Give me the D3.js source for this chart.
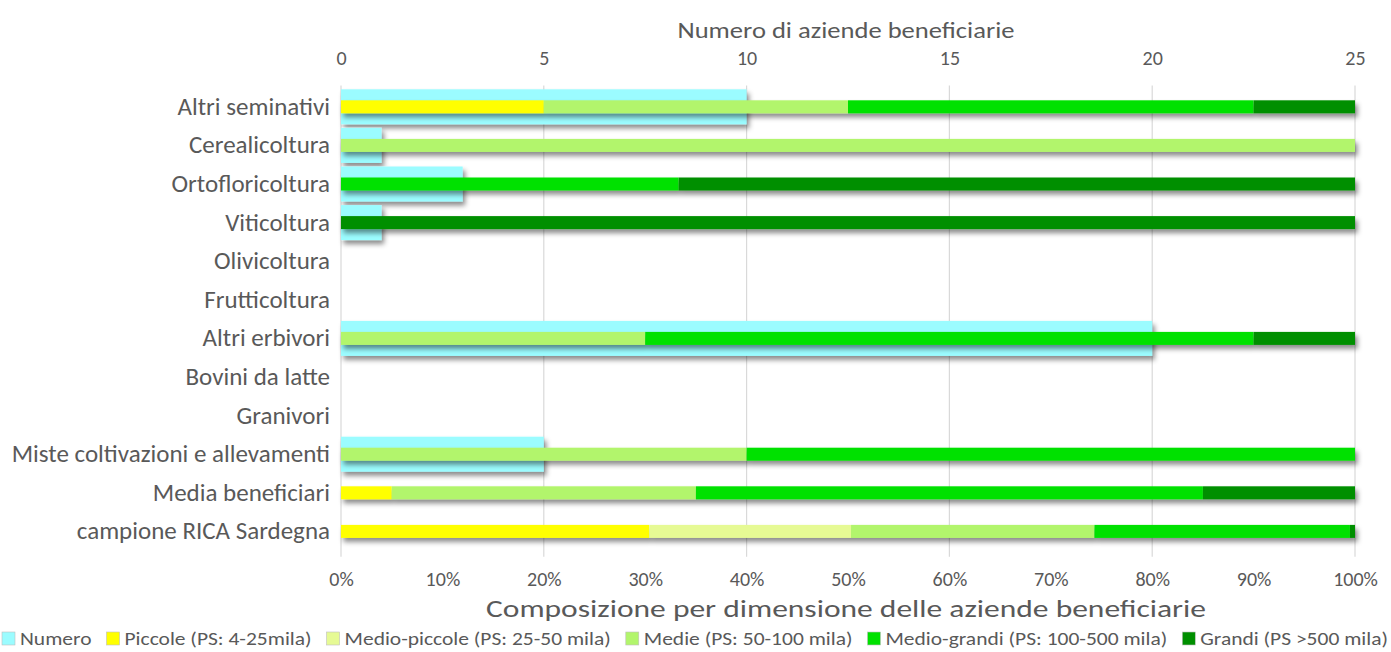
<!DOCTYPE html>
<html>
<head>
<meta charset="utf-8">
<script src="https://cdn.jsdelivr.net/npm/d3@7"></script>
<style>
  html, body { margin: 0; padding: 0; background: #fff; }
  svg { display: block; font-family: Carlito, Calibri, Lato, sans-serif; }
</style>
</head>
<body>
<svg id="chart" width="1391" height="652"></svg>
<script>
// Farm types (OTE) and reference groups
const categories = [
  "Altri seminativi", "Cerealicoltura", "Ortofloricoltura", "Viticoltura",
  "Olivicoltura", "Frutticoltura", "Altri erbivori", "Bovini da latte",
  "Granivori", "Miste coltivazioni e allevamenti", "Media beneficiari",
  "campione RICA Sardegna"
];

// Number of beneficiary farms per type (top axis)
const numero = [10, 1, 3, 1, 0, 0, 20, 0, 0, 5, 0, 0];

// Share (%) of farms by economic size class (bottom axis)
const piccole      = [20,   0,    0,    0, 0, 0,  0, 0, 0,  0,  5, 30.4];
const medioPiccole = [ 0,   0,    0,    0, 0, 0,  0, 0, 0,  0,  0, 19.9];
const medie        = [30, 100,    0,    0, 0, 0, 30, 0, 0, 40, 30, 24.0];
const medioGrandi  = [40,   0, 33.3,    0, 0, 0, 60, 0, 0, 60, 50, 25.2];
const grandi       = [10,   0, 66.7,  100, 0, 0, 10, 0, 0,  0, 15,  0.5];

const sizeClasses = [
  "Piccole (PS: 4-25mila)",
  "Medio-piccole (PS: 25-50 mila)",
  "Medie (PS: 50-100 mila)",
  "Medio-grandi (PS: 100-500 mila)",
  "Grandi (PS >500 mila)"
];
const sizeSeries = [piccole, medioPiccole, medie, medioGrandi, grandi];

const numeroTicks = [0, 5, 10, 15, 20, 25];
const pctTicks = [0, 10, 20, 30, 40, 50, 60, 70, 80, 90, 100];

const numeroColor = "#9BFCFF";
const sizeColors = ["#FFFF00", "#E6FA94", "#B2F56C", "#00E100", "#008F00"];
const textColor = "#595959";

const svg = d3.select("#chart");

const defs = svg.append("defs");
const shadow = defs.append("filter").attr("id", "barShadow")
  .attr("x", "-5%").attr("y", "-50%").attr("width", "110%").attr("height", "250%");
shadow.append("feDropShadow")
  .attr("dx", 2.5).attr("dy", 4).attr("stdDeviation", 2.4)
  .attr("flood-color", "#000").attr("flood-opacity", 0.45);

const plotLeft = 341, plotRight = 1355, plotTop = 87.5, rowH = 38.6;
const plotBottom = plotTop + rowH * categories.length;
const xNum = d3.scaleLinear().domain([0, 25]).range([plotLeft, plotRight]);
const xPct = d3.scaleLinear().domain([0, 100]).range([plotLeft, plotRight]);
const y = d3.scaleBand().domain(categories).range([plotTop, plotBottom]);
const cy = c => y(c) + y.bandwidth() / 2;

// Vertical gridlines on the number axis
svg.append("g").selectAll("line").data(numeroTicks).join("line")
  .attr("x1", d => xNum(d)).attr("x2", d => xNum(d))
  .attr("y1", plotTop - 2).attr("y2", plotBottom + 6)
  .attr("stroke", "#D9D9D9").attr("stroke-width", 1.2);

// Number of farms (wide pale cyan bars)
const numH = 35;
svg.append("g").attr("filter", "url(#barShadow)")
  .selectAll("rect").data(categories.map((c, i) => ({ c, v: numero[i] })).filter(d => d.v > 0))
  .join("rect")
  .attr("x", xNum(0)).attr("width", d => xNum(d.v) - xNum(0))
  .attr("y", d => cy(d.c) - numH / 2).attr("height", numH)
  .attr("fill", numeroColor);

// Composition by size class (narrow 100% stacked bars)
const rows = categories.map((c, i) => {
  const o = { cat: c };
  sizeClasses.forEach((k, j) => { o[k] = sizeSeries[j][i]; });
  return o;
});
const stack = d3.stack().keys(sizeClasses)(rows);
const stH = 13;
const stackG = svg.append("g").attr("filter", "url(#barShadow)");
stack.forEach((layer, j) => {
  stackG.append("g").attr("fill", sizeColors[j])
    .selectAll("rect").data(layer.filter(d => d[1] - d[0] > 0)).join("rect")
    .attr("x", d => xPct(d[0])).attr("width", d => xPct(d[1]) - xPct(d[0]))
    .attr("y", d => cy(d.data.cat) - stH / 2).attr("height", stH);
});

// Axes (use the page font instead of the axis default)
const styleAxis = size => g => {
  g.attr("font-family", null).attr("font-size", null);
  g.select(".domain").remove();
  g.selectAll("text").attr("fill", textColor).style("font-size", size + "px");
};
svg.append("g").attr("transform", `translate(0,65)`)
  .call(d3.axisTop(xNum).tickValues(numeroTicks).tickSize(0).tickPadding(0))
  .call(styleAxis(20));
svg.append("g").attr("transform", `translate(0,572)`)
  .call(d3.axisBottom(xPct).tickValues(pctTicks).tickSize(0).tickPadding(0).tickFormat(d => d + "%"))
  .call(styleAxis(20));
svg.append("g").attr("transform", `translate(${plotLeft},0)`)
  .call(d3.axisLeft(y).tickSize(0).tickPadding(11))
  .call(styleAxis(25));

// Axis titles
svg.append("text").attr("x", 846).attr("y", 38)
  .attr("text-anchor", "middle").attr("fill", textColor).style("font-size", "23px")
  .attr("textLength", 337).attr("lengthAdjust", "spacingAndGlyphs")
  .text("Numero di aziende beneficiarie");
svg.append("text").attr("x", 846).attr("y", 617)
  .attr("text-anchor", "middle").attr("fill", textColor).style("font-size", "24px")
  .attr("textLength", 720).attr("lengthAdjust", "spacingAndGlyphs")
  .text("Composizione per dimensione delle aziende beneficiarie");

// Legend, spread in one row across the bottom
const legendItems = [{ label: "Numero", color: numeroColor }]
  .concat(sizeClasses.map((k, j) => ({ label: k, color: sizeColors[j] })));
const legend = svg.append("g").attr("transform", "translate(0,645)");
const sw = 13, swGap = 5, itemGap = 15;
const items = legend.selectAll("g").data(legendItems).join("g");
items.append("rect").attr("y", -13).attr("width", sw).attr("height", sw)
  .attr("fill", d => d.color).attr("stroke", "#BFBFBF").attr("stroke-width", 0.6);
items.append("text").attr("x", sw + swGap).attr("fill", textColor)
  .style("font-size", "19px").text(d => d.label);
const textW = [];
items.each(function () { textW.push(d3.select(this).select("text").node().getComputedTextLength()); });
const fixedW = (sw + swGap) * textW.length + itemGap * (textW.length - 1);
const legendStart = 2, legendEnd = 1388;
const scaleText = (legendEnd - legendStart - fixedW) / d3.sum(textW);
let lx = legendStart;
items.each(function (d, i) {
  const g = d3.select(this);
  g.select("text").attr("textLength", textW[i] * scaleText).attr("lengthAdjust", "spacingAndGlyphs");
  g.attr("transform", `translate(${lx},0)`);
  lx += textW[i] * scaleText + sw + swGap + itemGap;
});
</script>
</body>
</html>
